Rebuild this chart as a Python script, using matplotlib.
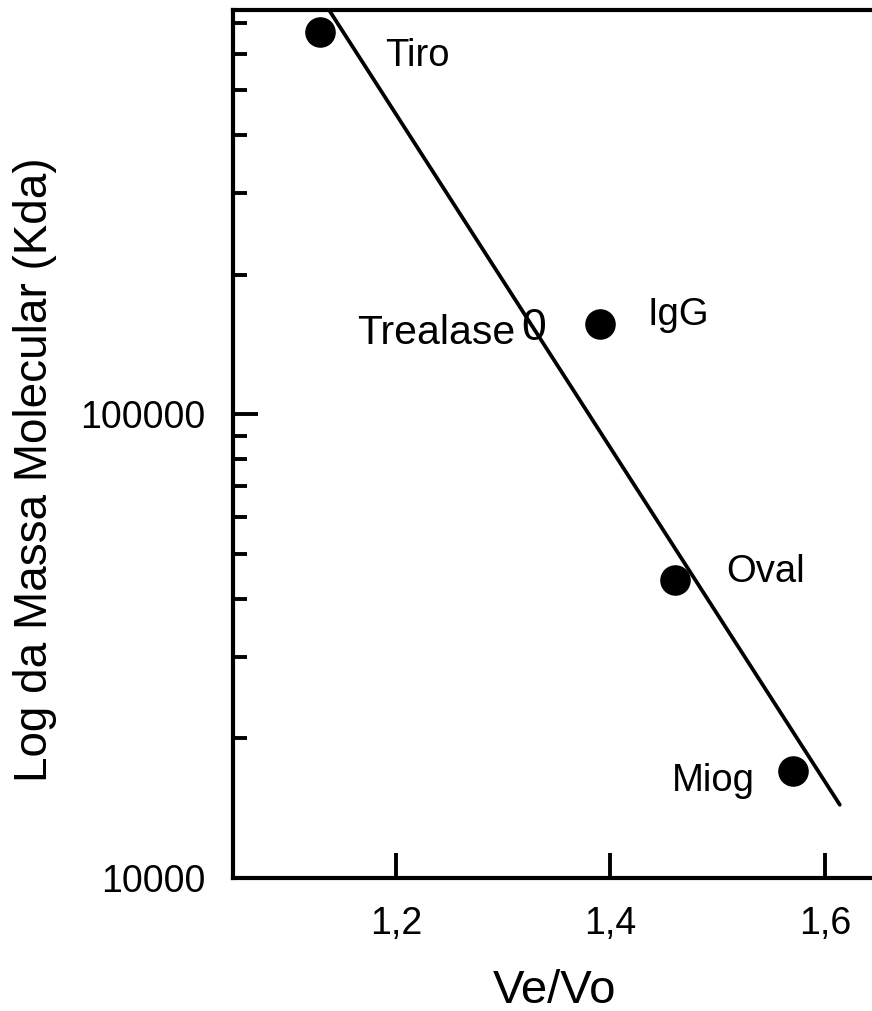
import numpy as np
import matplotlib
matplotlib.use("Agg")
import matplotlib.pyplot as plt
from matplotlib.ticker import FixedLocator, NullFormatter, NullLocator

# Calibration standards (elution ratio vs. molecular mass)
standards = ["Tiro", "IgG", "Oval", "Miog"]
ve_vo = [1.129, 1.390, 1.460, 1.570]
mass = [669000, 157000, 44000, 17000]

# Unknown sample
sample_name = "Trealase"
sample_ve_vo = 1.3287
sample_mass = 153000

x_ticks = [1.2, 1.4, 1.6]
x_tick_labels = ["1,2", "1,4", "1,6"]
y_major = [10000, 100000]
y_minor = [20000, 30000, 40000, 50000, 60000, 70000, 80000, 90000,
           200000, 300000, 400000, 500000, 600000, 700000]

plt.rcParams["font.family"] = ["Liberation Sans", "DejaVu Sans"]

fig = plt.figure(figsize=(8.72, 10.11), dpi=100)
ax = fig.add_axes([233 / 872, 133 / 1011, 699 / 872, 868 / 1011])

ax.set_yscale("log")
ax.set_xlim(1.048, 1.70)
ax.set_ylim(10000, 745000)

# Linear fit of log10(mass) against Ve/Vo
slope, intercept = np.polyfit(ve_vo, np.log10(mass), 1)
fit_x = np.array([1.10, 1.614])
ax.plot(fit_x, 10 ** (intercept + slope * fit_x), color="black", lw=2.7,
        solid_capstyle="round", zorder=2)

ax.plot(ve_vo, mass, "o", color="black", markersize=21, zorder=3)

label_offsets = {"Tiro": (47, -24.5, "left"),
                 "IgG": (34.6, -1.4, "left"),
                 "Oval": (37.4, -1.4, "left"),
                 "Miog": (-27.4, -14.4, "right")}
for name, x, y in zip(standards, ve_vo, mass):
    dx, dy, ha = label_offsets[name]
    ax.annotate(name, (x, y), xytext=(dx, dy), textcoords="offset points",
                ha=ha, va="baseline", fontsize=27.5)

ax.annotate("0", (sample_ve_vo, sample_mass), ha="center", va="center",
            fontsize=32)
ax.annotate(sample_name, (sample_ve_vo, sample_mass), xytext=(-13.7, -10.8),
            textcoords="offset points", ha="right", va="baseline", fontsize=29.5)

# Axes styling
for side in ["left", "bottom", "top"]:
    ax.spines[side].set_linewidth(3)
ax.spines["right"].set_visible(False)

ax.xaxis.set_major_locator(FixedLocator(x_ticks))
ax.set_xticklabels(x_tick_labels)
ax.xaxis.set_minor_locator(NullLocator())
ax.yaxis.set_major_locator(FixedLocator(y_major))
ax.set_yticklabels([str(v) for v in y_major])
ax.yaxis.set_minor_locator(FixedLocator(y_minor))
ax.yaxis.set_minor_formatter(NullFormatter())

ax.tick_params(axis="x", which="major", direction="in", length=18, width=2.8,
               pad=20, labelsize=27, top=False)
ax.tick_params(axis="y", which="major", direction="in", length=18, width=2.8,
               pad=20, labelsize=27, right=False)
ax.tick_params(axis="y", which="minor", direction="in", length=10, width=2.8,
               right=False)

ax.set_xlabel("Ve/Vo", fontsize=34, va="baseline")
ax.xaxis.set_label_coords(0.4607, -0.144)
ax.set_ylabel("Log da Massa Molecular (Kda)", fontsize=33, va="center")
ax.yaxis.set_label_coords(-0.283, 0.470)

fig.savefig("out.png", dpi=100)
